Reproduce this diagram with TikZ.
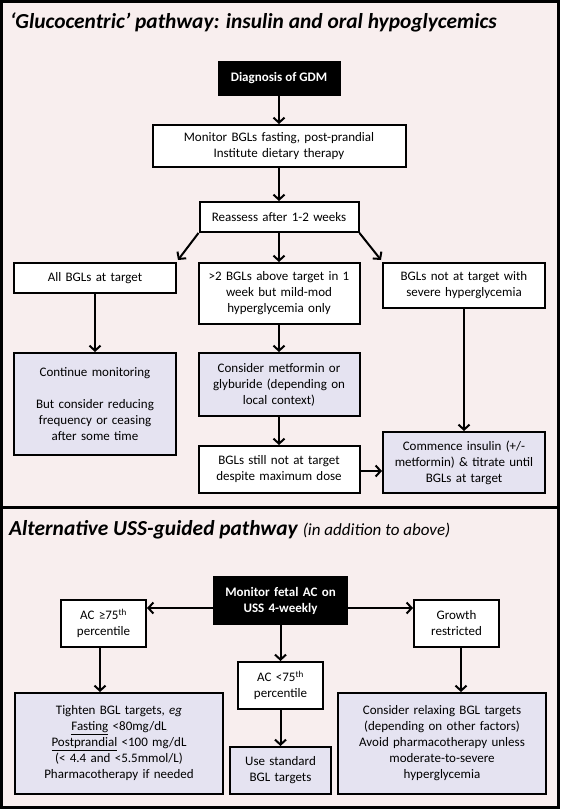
\documentclass[tikz,border=0pt]{standalone}
\usepackage{fontspec}
\setmainfont{Carlito}
\usetikzlibrary{arrows.meta, math}
\definecolor{mypink}{RGB}{248,238,238}
\definecolor{mylav}{RGB}{229,227,241}
\newcommand{\boxfont}{\fontsize{13}{16}\selectfont}
\newcommand{\headfont}{\fontsize{21.4}{25}\selectfont\bfseries\itshape}

\begin{document}
\begin{tikzpicture}[x=1pt, y=-1pt,
  box/.style={draw, line width=2pt, fill=white, align=center, inner xsep=0pt, inner ysep=2pt, font=\boxfont},
  actbox/.style={box, fill=mylav},
  blackbox/.style={box, fill=black, text=white, font=\boxfont\bfseries},
  arr/.style={line width=2pt, -{Straight Barb[length=5pt,width=11pt]}},
]
\tikzmath{
\xl=95;
\xm=279;
\xr=464;
}
\useasboundingbox (0,0) rectangle (560,809);

%panels
\fill[mypink] (0,0) rectangle (560,809);
\draw[line width=3pt] (1.5,1.5) rectangle (558.5,807.5);
\draw[line width=3pt] (0,507) -- (560,507);

%glucocentric pathway
\node[anchor=base west, font=\headfont, inner sep=0pt] (title1) at (10,28) {‘Glucocentric’ pathway: insulin and oral hypoglycemics};

\node[blackbox, minimum width=121, minimum height=33] (diag) at (\xm,78.5) {Diagnosis of GDM};
\node[box, minimum width=253, text width=245pt, minimum height=42] (mon) at (\xm,146) {Monitor BGLs fasting, post-prandial\\Institute dietary therapy};
\node[box, minimum width=159, text width=151pt, minimum height=30] (reas) at (\xm,217) {Reassess after 1-2 weeks};

\node[box, minimum width=162, text width=154pt, minimum height=30] (all) at (\xl,278) {All BGLs at target};
\node[box, minimum width=161, text width=153pt, minimum height=61] (mid) at (\xm,293.5) {>2 BGLs above target in 1\\week but mild-mod\\hyperglycemia only};
\node[box, minimum width=162, text width=154pt, minimum height=45] (sev) at (\xr,285.5) {BGLs not at target with\\severe hyperglycemia};

\node[actbox, minimum width=162, text width=154pt, minimum height=102] (cont) at (\xl,404) {Continue monitoring\\[16pt]But consider reducing\\frequency or ceasing\\after some time};
\node[actbox, minimum width=161, text width=153pt, minimum height=63] (met) at (\xm,384.5) {Consider metformin or\\glyburide (depending on\\local context)};
\node[box, minimum width=161, text width=153pt, minimum height=47] (still) at (\xm,469.5) {BGLs still not at target\\despite maximum dose};
\node[actbox, minimum width=162, text width=154pt, minimum height=61] (ins) at (\xr,462.5) {Commence insulin (+/-\\metformin) \& titrate until\\BGLs at target};

\draw[arr] (diag) -- (mon);
\draw[arr] (mon) -- (reas);
\draw[arr] (reas.south west) -- ([xshift=1pt,yshift=2pt]all.north east);
\draw[arr] (reas) -- (mid);
\draw[arr] (reas.south east) -- ([xshift=-1pt,yshift=2pt]sev.north west);
\draw[arr] (all) -- (cont);
\draw[arr] (mid) -- (met);
\draw[arr] (met) -- (still);
\draw[arr] (sev) -- (ins);
\draw[arr] ([yshift=-1.5pt]still.east) -- ([yshift=-1.5pt]still.east -| ins.west);

%uss pathway
\node[anchor=base west, inner sep=0pt] (title2) at (9,535) {{\headfont Alternative USS-guided pathway}\hspace{5pt}{\fontsize{17}{20}\selectfont\itshape (in addition to above)}};

\node[blackbox, minimum width=133, text width=125pt, minimum height=47] (fetal) at (280.5,600.5) {Monitor fetal AC on\\USS 4-weekly};
\node[box, minimum width=85, text width=79pt, minimum height=47] (ac1) at (103.5,623.5) {AC ≥75\textsuperscript{th}\\percentile};
\node[box, minimum width=85, text width=79pt, minimum height=47] (grow) at (456.5,623.5) {Growth\\restricted};
\node[box, minimum width=85, text width=79pt, minimum height=47] (ac2) at (280.5,685.5) {AC <75\textsuperscript{th}\\percentile};

\node[actbox, minimum width=208, text width=200pt, minimum height=101] (tight) at (119,743.5) {Tighten BGL targets, \textit{eg}\\\underline{Fasting} <80mg/dL\\\underline{Postprandial} <100 mg/dL\\(< 4.4 and <5.5mmol/L)\\Pharmacotherapy if needed};
\node[actbox, minimum width=101, text width=95pt, minimum height=47] (std) at (280.5,770.5) {Use standard\\BGL targets};
\node[actbox, minimum width=208, text width=202pt, minimum height=101] (relax) at (442,743.5) {Consider relaxing BGL targets\\(depending on other factors)\\Avoid pharmacotherapy unless\\moderate-to-severe\\hyperglycemia};

\draw[arr] ([yshift=-7.5pt]fetal.west) -- ([yshift=-7.5pt]fetal.west -| ac1.east);
\draw[arr] ([yshift=-7.5pt]fetal.east) -- ([yshift=-7.5pt]fetal.east -| grow.west);
\draw[arr] (fetal) -- (ac2);
\draw[arr] (ac2) -- (std);
\draw[arr] ([xshift=-3.5pt]ac1.south) -- ([xshift=-3.5pt]ac1.south |- tight.north);
\draw[arr] ([xshift=4.5pt]grow.south) -- ([xshift=4.5pt]grow.south |- relax.north);
\end{tikzpicture}
\end{document}
